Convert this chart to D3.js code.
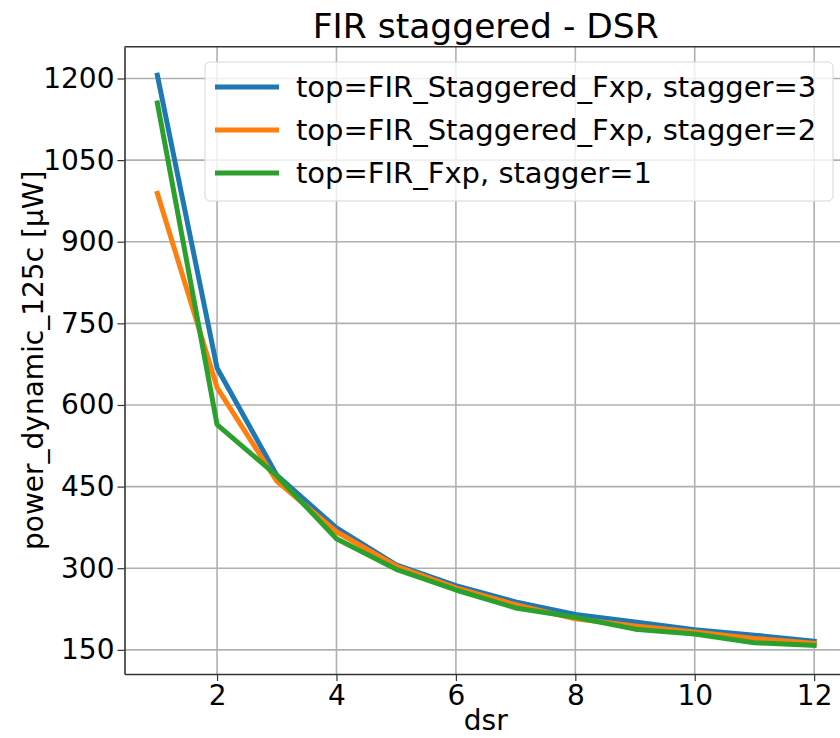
<!DOCTYPE html>
<html>
<head>
<meta charset="utf-8">
<script src="https://cdn.jsdelivr.net/npm/d3@7"></script>
<style>
  body { margin: 0; background: #fff; }
  svg text { font-family: "DejaVu Sans", sans-serif; fill: #000; }
</style>
</head>
<body>
<svg width="840" height="738"></svg>
<script>
const dsr = [1, 2, 3, 4, 5, 6, 7, 8, 9, 10, 11, 12];
const stagger3 = [1206, 668, 471, 374, 306, 268, 238, 215, 201, 187, 177, 166];
const stagger2 = [989, 632, 460, 367, 304, 264, 233, 207, 194, 183, 171, 162];
const stagger1 = [1155, 564, 470, 354, 298, 260, 227, 210, 188, 179, 163, 158];
const seriesNames = ["top=FIR_Staggered_Fxp, stagger=3", "top=FIR_Staggered_Fxp, stagger=2", "top=FIR_Fxp, stagger=1"];
const xTicks = [2, 4, 6, 8, 10, 12];
const yTicks = [150, 300, 450, 600, 750, 900, 1050, 1200];

const colors = ["#1f77b4", "#ff7f0e", "#2ca02c"];
const series = [stagger3, stagger2, stagger1];

const margin = {left: 124.5, top: 46.7, right: 847, bottom: 674};

// matplotlib style 5% padding
const allY = series.flat();
const yMin = d3.min(allY), yMax = d3.max(allY);
const yPad = (yMax - yMin) * 0.05;
const xPad = (d3.max(dsr) - d3.min(dsr)) * 0.05;

const xScale = d3.scaleLinear()
    .domain([d3.min(dsr) - xPad, d3.max(dsr) + xPad])
    .range([margin.left, margin.right]);

const yScale = d3.scaleLinear()
    .domain([yMin - yPad, yMax + yPad])
    .range([margin.bottom, margin.top]);

const svg = d3.select("svg");

// grid
svg.append("g")
    .selectAll("line")
    .data(xTicks)
    .enter().append("line")
    .attr("x1", d => xScale(d)).attr("x2", d => xScale(d))
    .attr("y1", margin.top).attr("y2", margin.bottom)
    .attr("stroke", "#b0b0b0").attr("stroke-width", 1.6);

svg.append("g")
    .selectAll("line")
    .data(yTicks)
    .enter().append("line")
    .attr("x1", margin.left).attr("x2", margin.right)
    .attr("y1", d => yScale(d)).attr("y2", d => yScale(d))
    .attr("stroke", "#b0b0b0").attr("stroke-width", 1.6);

// lines
const line = d3.line()
    .x((d, i) => xScale(dsr[i]))
    .y(d => yScale(d));

series.forEach((s, i) => {
    svg.append("path")
        .datum(s)
        .attr("d", line)
        .attr("fill", "none")
        .attr("stroke", colors[i])
        .attr("stroke-width", 5)
        .attr("stroke-linejoin", "round")
        .attr("stroke-linecap", "square");
});

// axes
const xAxis = svg.append("g")
    .attr("transform", `translate(0,${margin.bottom})`)
    .call(d3.axisBottom(xScale).tickValues(xTicks).tickFormat(d3.format("d"))
        .tickSizeInner(7).tickSizeOuter(0).tickPadding(4));
const yAxis = svg.append("g")
    .attr("transform", `translate(${margin.left},0)`)
    .call(d3.axisLeft(yScale).tickValues(yTicks).tickFormat(d3.format("d"))
        .tickSizeInner(7).tickSizeOuter(0).tickPadding(3));

[xAxis, yAxis].forEach(a => {
    a.selectAll("text").style("font-size", "28px");
    a.selectAll("line").attr("stroke", "#333").attr("stroke-width", 1.2);
    a.select(".domain").attr("stroke", "#333").attr("stroke-width", 1.6);
});

// top spine
svg.append("line")
    .attr("x1", margin.left).attr("x2", margin.right)
    .attr("y1", margin.top).attr("y2", margin.top)
    .attr("stroke", "#333").attr("stroke-width", 1.6);

// titles
svg.append("text")
    .attr("x", (margin.left + margin.right) / 2)
    .attr("y", 37.5)
    .attr("text-anchor", "middle")
    .style("font-size", "34.5px")
    .text("FIR staggered - DSR");

svg.append("text")
    .attr("x", (margin.left + margin.right) / 2)
    .attr("y", 730)
    .attr("text-anchor", "middle")
    .style("font-size", "28px")
    .text("dsr");

svg.append("text")
    .attr("transform", `translate(43,${(margin.top + margin.bottom) / 2}) rotate(-90)`)
    .attr("text-anchor", "middle")
    .style("font-size", "28px")
    .text("power_dynamic_125c [μW]");

// legend
const legend = svg.append("g").attr("transform", "translate(205,62)");
legend.append("rect")
    .attr("width", 628).attr("height", 139)
    .attr("rx", 5)
    .attr("fill", "rgba(255,255,255,0.8)")
    .attr("stroke", "#d6d6d6");

seriesNames.forEach((name, i) => {
    const y = 25 + i * 43;
    legend.append("line")
        .attr("x1", 10).attr("x2", 74)
        .attr("y1", y).attr("y2", y)
        .attr("stroke", colors[i]).attr("stroke-width", 5);
    legend.append("text")
        .attr("x", 91).attr("y", y + 10)
        .style("font-size", "29px")
        .text(name);
});
</script>
</body>
</html>
